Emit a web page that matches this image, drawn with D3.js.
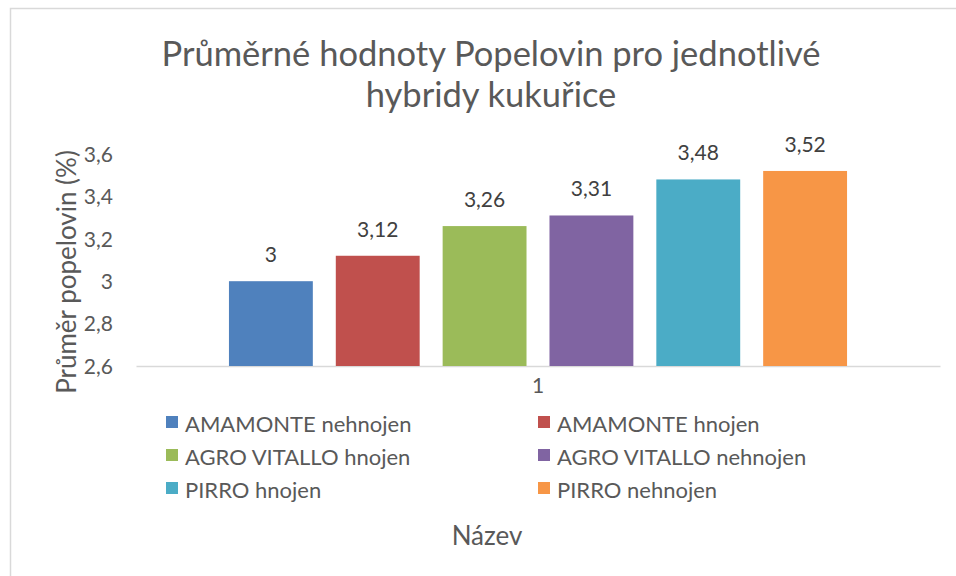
<!DOCTYPE html>
<html>
<head>
<meta charset="utf-8">
<script src="https://cdn.jsdelivr.net/npm/d3@7"></script>
<style>
  body { margin: 0; background: #fff; }
  text { font-family: Lato, "Open Sans", sans-serif; fill: #595959; }
</style>
</head>
<body>
<div id="chart"></div>
<script>
// data
const categories = ['1'];
const seriesNames = [
  'AMAMONTE nehnojen', 'AMAMONTE hnojen',
  'AGRO VITALLO hnojen', 'AGRO VITALLO nehnojen',
  'PIRRO hnojen', 'PIRRO nehnojen'
];
const seriesValues = [3, 3.12, 3.26, 3.31, 3.48, 3.52];
const seriesColors = ['#4F81BD', '#C0504D', '#9BBB59', '#8064A2', '#4BACC6', '#F79646'];
const yTicks = [2.6, 2.8, 3, 3.2, 3.4, 3.6];
const titleLines = ['Průměrné hodnoty Popelovin pro jednotlivé', 'hybridy kukuřice'];

const W = 956, H = 576;
const plot = {left: 136, right: 940, top: 154, bottom: 366};

const fmt = v => String(+v.toFixed(2)).replace('.', ',');

const svg = d3.select('#chart').append('svg')
    .attr('width', W)
    .attr('height', H);

// chart frame
svg.append('rect')
    .attr('x', 10.5).attr('y', 8.5)
    .attr('width', 970).attr('height', 590)
    .attr('fill', '#fff')
    .attr('stroke', '#d9d9d9')
    .attr('stroke-width', 1.5);

// title
svg.append('text')
    .attr('x', 491).attr('y', 66)
    .attr('text-anchor', 'middle')
    .style('font-size', '34.5px')
    .selectAll('tspan')
    .data(titleLines)
    .enter()
    .append('tspan')
    .attr('x', 491)
    .attr('dy', (d, i) => i === 0 ? 0 : 41)
    .text(d => d);

let yScale = d3.scaleLinear()
    .domain([2.6, 3.6])
    .range([plot.bottom, plot.top]);

let x0 = d3.scaleBand()
    .domain(categories)
    .range([plot.left, plot.right]);

let x1 = d3.scaleBand()
    .domain(seriesNames)
    .range([0, x0.bandwidth()])
    .paddingInner(0.215)
    .paddingOuter(0.87);

// y axis (labels only, no line)
const yAxis = svg.append('g')
    .attr('transform', 'translate(113,0)')
    .call(d3.axisLeft(yScale).tickValues(yTicks).tickSize(0).tickPadding(0).tickFormat(fmt));
yAxis.select('.domain').remove();
yAxis.selectAll('text')
    .style('font-size', '21px')
    .style('fill', '#595959')
    .attr('dy', '0.35em');

// category axis
const xAxis = svg.append('g')
    .attr('transform', 'translate(0,' + plot.bottom + ')')
    .call(d3.axisBottom(x0).tickSize(0).tickPadding(14));
xAxis.select('.domain')
    .attr('stroke', '#d9d9d9')
    .attr('stroke-width', 1.5);
xAxis.selectAll('text')
    .style('font-size', '21px')
    .style('fill', '#595959')
    .attr('dy', '0.6em');

// bars
const group = svg.append('g')
    .selectAll('g')
    .data(categories)
    .enter()
    .append('g')
    .attr('transform', d => 'translate(' + x0(d) + ',0)');

group.selectAll('rect')
    .data(seriesNames.map((n, i) => ({name: n, value: seriesValues[i], color: seriesColors[i]})))
    .enter()
    .append('rect')
    .attr('x', d => x1(d.name))
    .attr('y', d => yScale(d.value))
    .attr('width', x1.bandwidth())
    .attr('height', d => yScale(2.6) - yScale(d.value))
    .attr('fill', d => d.color);

group.selectAll('text.lbl')
    .data(seriesNames.map((n, i) => ({name: n, value: seriesValues[i]})))
    .enter()
    .append('text')
    .attr('class', 'lbl')
    .attr('x', d => x1(d.name) + x1.bandwidth() / 2)
    .attr('y', d => yScale(d.value) - 19)
    .attr('text-anchor', 'middle')
    .style('font-size', '21px')
    .style('fill', '#404040')
    .text(d => fmt(d.value));

// y axis title
svg.append('text')
    .attr('transform', 'translate(76,272) rotate(-90)')
    .attr('text-anchor', 'middle')
    .style('font-size', '26px')
    .text('Průměr popelovin (%)');

// x axis title
svg.append('text')
    .attr('x', 487).attr('y', 545)
    .attr('text-anchor', 'middle')
    .style('font-size', '26px')
    .text('Název');

// legend, two columns
const legend = svg.append('g')
    .selectAll('g')
    .data(seriesNames)
    .enter()
    .append('g')
    .attr('transform', (d, i) => 'translate(' + (i % 2 === 0 ? 166 : 538) + ',' + (416 + Math.floor(i / 2) * 33) + ')');

legend.append('rect')
    .attr('width', 12).attr('height', 12)
    .attr('fill', (d, i) => seriesColors[i]);

legend.append('text')
    .attr('x', 19).attr('y', 8)
    .attr('dy', '0.38em')
    .style('font-size', '22px')
    .text(d => d);
</script>
</body>
</html>
